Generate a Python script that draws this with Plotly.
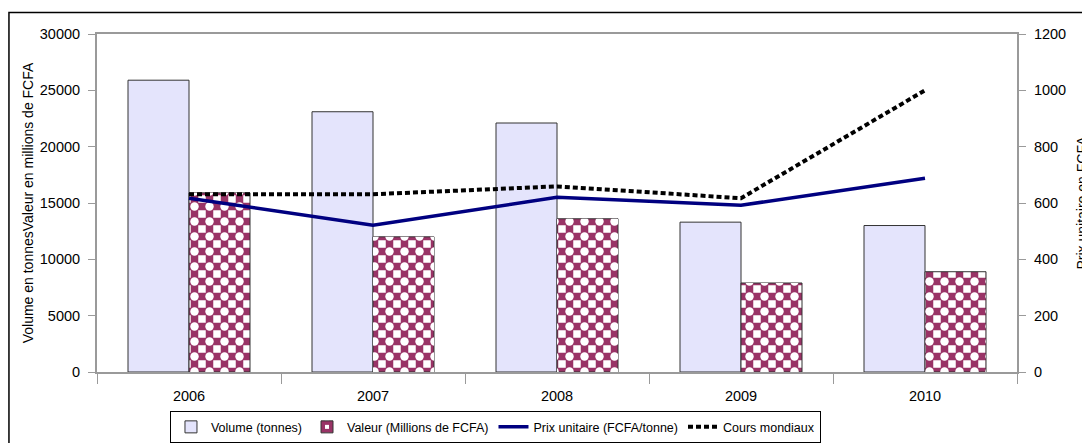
import plotly.graph_objects as go

annees = ["2006", "2007", "2008", "2009", "2010"]
volume_tonnes = [25900, 23100, 22100, 13300, 13000]
valeur_mfcfa = [15900, 12000, 13600, 7900, 8900]
prix_unitaire = [617, 521, 620, 592, 688]
cours_mondiaux = [631, 631, 659, 617, 1000]

police = "Liberation Sans, Arial, sans-serif"
gris = "#9a9a9a"
bordeaux = "#993366"
taille_damier = 15

fig = go.Figure()

fig.add_trace(go.Bar(
    x=annees, y=volume_tonnes, name="Volume (tonnes)",
    offsetgroup="vol",
    marker=dict(color="#e4e4fc", line=dict(color="#333333", width=1)),
))

# damier : croix bordeaux puis pastilles blanches par dessus
fig.add_trace(go.Bar(
    x=annees, y=valeur_mfcfa, name="Valeur (Millions de FCFA)",
    offsetgroup="val",
    marker=dict(color="white", line=dict(color="#333333", width=1),
                pattern=dict(shape="+", fgcolor=bordeaux, bgcolor="white",
                             fgopacity=1, size=taille_damier, solidity=0.75)),
))
fig.add_trace(go.Bar(
    x=annees, y=valeur_mfcfa, name="damier", showlegend=False,
    offsetgroup="val", hoverinfo="skip",
    marker=dict(color="rgba(0,0,0,0)", line=dict(width=0),
                pattern=dict(shape=".", fgcolor="white", bgcolor="rgba(0,0,0,0)",
                             fgopacity=1, size=taille_damier, solidity=0.25)),
))

fig.add_trace(go.Scatter(
    x=annees, y=prix_unitaire, name="Prix unitaire (FCFA/tonne)",
    mode="lines", yaxis="y2",
    line=dict(color="#000080", width=3.5),
))
fig.add_trace(go.Scatter(
    x=annees, y=cours_mondiaux, name="Cours mondiaux",
    mode="lines", yaxis="y2",
    line=dict(color="black", width=4, dash="5px,3px"),
))

# la page ajoute 8 px de marge autour de la figure
fig.update_layout(
    width=1082, height=435,
    margin=dict(l=89, r=73, t=26, b=71),
    paper_bgcolor="white", plot_bgcolor="white",
    font=dict(family=police, size=14.5, color="black"),
    barmode="group", bargap=0.337, bargroupgap=0,
    showlegend=True,
    legend=dict(
        orientation="h", xref="container", yref="container",
        x=0.1497, y=0.073, xanchor="left", yanchor="top",
        bordercolor="black", borderwidth=1, font=dict(size=12.5),
        traceorder="normal", itemwidth=30,
    ),
    xaxis=dict(
        type="category", showline=True, linecolor=gris, linewidth=2,
        mirror=True, ticks="outside", tickson="boundaries", ticklen=10,
        tickcolor=gris, showgrid=False, automargin=False,
        ticklabelstandoff=10,
    ),
    yaxis=dict(
        range=[0, 30000], dtick=5000, tickformat="d", showline=True,
        linecolor=gris, linewidth=2, ticks="outside", ticklen=7,
        tickcolor=gris, showgrid=False, zeroline=False, automargin=False,
        ticklabelstandoff=5,
        title=dict(text="Volume en tonnesValeur en millions de FCFA",
                   font=dict(size=14), standoff=3),
    ),
    yaxis2=dict(
        range=[0, 1200], dtick=200, overlaying="y", side="right",
        showline=True, linecolor=gris, linewidth=2, ticks="outside",
        ticklen=7, tickcolor=gris, showgrid=False, zeroline=False,
        automargin=False, ticklabelstandoff=5,
        title=dict(text="Prix unitaire en FCFA", font=dict(size=14), standoff=43),
    ),
    shapes=[dict(type="rect", xref="paper", yref="paper",
                 x0=-0.0957, x1=1.1, y0=-0.3, y1=1.0635,
                 line=dict(color="black", width=1.5), layer="below")],
)

fig.write_html("out.html")
